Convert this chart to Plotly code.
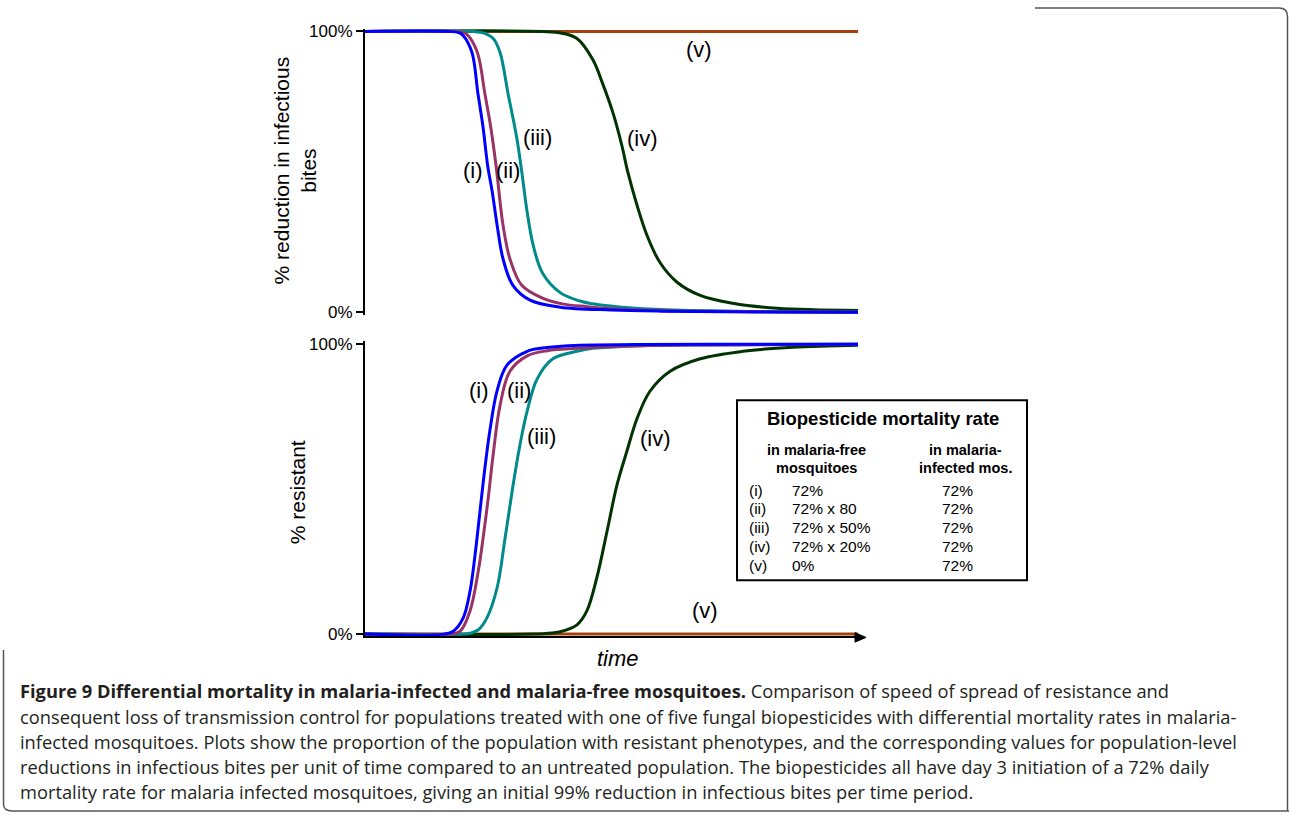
import plotly.graph_objects as go

W, H = 1289, 820

# ---------------- data ----------------
# time axis is unlabelled; arbitrary units 0..100
# Top panel: % reduction in infectious bites
top_t_i = [0, 17, 19, 19.9, 21.7, 22.9, 23.9, 24.9, 25.8, 26.8, 28.0, 30.0, 33.5, 39.6, 50, 60, 80, 100]
top_v_i = [100, 100, 99.6, 98.6, 92.5, 78, 66.5, 52, 43, 31, 19, 9.6, 4.3, 1.8, 0.8, 0.4, 0.1, 0]

top_t_ii = [0, 18, 20, 20.9, 22.8, 24.3, 25.5, 26.6, 28.0, 29.4, 31.8, 36, 40, 45, 50, 60, 80, 100]
top_v_ii = [100, 100, 99.6, 98.6, 92.5, 78, 66, 52, 31, 19, 9.6, 5, 3, 2, 1.3, 0.6, 0.2, 0]

top_t_iii = [0, 22, 24, 26, 27.4, 29, 30.8, 31.8, 32.9, 34.1, 36, 39.6, 43.6, 46.2, 52, 60, 75, 100]
top_v_iii = [100, 100, 99.5, 97.5, 92.5, 78, 62, 50, 35.6, 24, 14, 7, 4.0, 3.0, 1.8, 1, 0.4, 0.1]

top_t_iv = [0, 36, 40, 43, 46.2, 48.3, 50.3, 52.1, 53.3, 55.2, 57.2, 59.8, 63.3, 68, 74.6, 83.6, 100]
top_v_iv = [100, 100, 99.4, 97.5, 90, 81, 71, 59.4, 50, 38, 27.4, 17.8, 10.7, 6, 3.2, 1.4, 0.6]

top_t_v = [0, 100]
top_v_v = [100, 100]

# Bottom panel: % resistant
bot_t_i = [0, 16, 17.9, 19.9, 21.3, 22.3, 23.3, 24.3, 25.4, 26.8, 28.8, 32.9, 36, 43.6, 55, 70, 100]
bot_v_i = [0, 0, 1, 5.5, 14.8, 27, 42, 57, 71, 84, 92.8, 97.6, 98.7, 99.7, 99.9, 100, 100]

bot_t_ii = [0, 17, 19.3, 21.3, 23, 24.3, 25, 26, 27.4, 29.4, 32.9, 37, 43, 55, 70, 100]
bot_v_ii = [0, 0, 1, 8, 22, 37.6, 47, 62, 79, 90.7, 96, 97.8, 98.6, 99.5, 99.8, 100]

bot_t_iii = [0, 20, 21.3, 23, 24.7, 26.8, 28.4, 30, 31.4, 32.9, 34.9, 38.1, 43, 46.2, 60, 80, 100]
bot_v_iii = [0, 0, 0.3, 1.5, 5.5, 16, 33, 51, 65, 77, 88, 95, 97.6, 98.6, 99.7, 99.9, 100]

bot_t_iv = [0, 34, 38, 39.6, 43, 45, 47, 49.1, 51.1, 53.1, 55.2, 57.8, 61.9, 68, 76.7, 86.8, 100]
bot_v_iv = [0, 0, 0.4, 0.8, 3.2, 8, 19.3, 35.5, 51.4, 63, 74.5, 83.8, 90.7, 95, 97.6, 99, 99.7]

bot_t_v = [0, 100]
bot_v_v = [0, 0]

series_names = ["(i)", "(ii)", "(iii)", "(iv)", "(v)"]
colors = {"(i)": "#0000FF", "(ii)": "#993366", "(iii)": "#008B8B", "(iv)": "#003300", "(v)": "#A3410C"}

y_tick_vals = [0, 100]
y_tick_text = ["0%", "100%"]

# legend table contents
legend_title = "Biopesticide mortality rate"
legend_col1_head = ["in malaria-free", "mosquitoes"]
legend_col2_head = ["in malaria-", "infected mos."]
legend_ids = ["(i)", "(ii)", "(iii)", "(iv)", "(v)"]
legend_free = ["72%", "72% x 80", "72% x 50%", "72% x 20%", "0%"]
legend_infected = ["72%", "72%", "72%", "72%", "72%"]

caption_lines = [
    "<b>Figure 9 Differential mortality in malaria-infected and malaria-free mosquitoes.</b> Comparison of speed of spread of resistance and",
    "consequent loss of transmission control for populations treated with one of five fungal biopesticides with differential mortality rates in malaria-",
    "infected mosquitoes. Plots show the proportion of the population with resistant phenotypes, and the corresponding values for population-level",
    "reductions in infectious bites per unit of time compared to an untreated population. The biopesticides all have day 3 initiation of a 72% daily",
    "mortality rate for malaria infected mosquitoes, giving an initial 99% reduction in infectious bites per time period.",
]

# ---------------- helpers ----------------
# the photographed page shows the figure slightly squeezed vertically
# (screen_y ~= 5.5 + 0.9835 * figure_y); target screen pixels are converted back here
Y_OFF, Y_SCALE = 5.5, 0.9835


def px(x):
    return x / W


def py(y):
    fy = (y - Y_OFF) / Y_SCALE
    fy = min(max(fy, 0.0), H - 1.0)
    return 1 - fy / H


FONT = "Liberation Sans, Arial, Helvetica, sans-serif"
CAP_FONT = "Open Sans, sans-serif"

fig = go.Figure()

top_data = {
    "(i)": (top_t_i, top_v_i), "(ii)": (top_t_ii, top_v_ii), "(iii)": (top_t_iii, top_v_iii),
    "(iv)": (top_t_iv, top_v_iv), "(v)": (top_t_v, top_v_v),
}
bot_data = {
    "(i)": (bot_t_i, bot_v_i), "(ii)": (bot_t_ii, bot_v_ii), "(iii)": (bot_t_iii, bot_v_iii),
    "(iv)": (bot_t_iv, bot_v_iv), "(v)": (bot_t_v, bot_v_v),
}

# draw order: (v) first, (i) last (on top)
for name in reversed(series_names):
    t, v = top_data[name]
    fig.add_trace(go.Scatter(x=t, y=v, mode="lines", xaxis="x", yaxis="y",
                             line=dict(color=colors[name], width=3, shape="spline", smoothing=1.0),
                             showlegend=False, hoverinfo="skip"))
for name in reversed(series_names):
    t, v = bot_data[name]
    fig.add_trace(go.Scatter(x=t, y=v, mode="lines", xaxis="x2", yaxis="y2",
                             line=dict(color=colors[name], width=3, shape="spline", smoothing=1.0),
                             showlegend=False, hoverinfo="skip"))

xdom = [px(365), px(858)]
ydom_top = [py(314.2), py(28.2)]
ydom_bot = [py(636.3), py(341.1)]

yaxis_common = dict(range=[-0.8, 101], showline=True, linecolor="black", linewidth=2,
                    ticks="outside", ticklen=7, tickwidth=2, tickcolor="black",
                    tickvals=y_tick_vals, ticktext=y_tick_text, showgrid=False, zeroline=False,
                    tickfont=dict(family=FONT, size=17, color="black"), fixedrange=True)

fig.update_layout(
    width=W, height=H, autosize=False, margin=dict(l=0, r=0, t=0, b=0, pad=0),
    paper_bgcolor="white", plot_bgcolor="white",
    xaxis=dict(domain=xdom, range=[0, 100], visible=False, anchor="y"),
    xaxis2=dict(domain=xdom, range=[0, 100], anchor="y2", showline=True, linecolor="black", linewidth=2,
                showticklabels=False, ticks="", showgrid=False, zeroline=False, fixedrange=True),
    yaxis=dict(domain=ydom_top, anchor="x", **yaxis_common),
    yaxis2=dict(domain=ydom_bot, anchor="x2", **yaxis_common),
)

ann = []

def add_text(x, y, text, size, xanchor="center", yanchor="middle", family=FONT, color="black", angle=0):
    ann.append(dict(x=x, y=y, xref="paper", yref="paper", text=text, showarrow=False,
                    xanchor=xanchor, yanchor=yanchor, textangle=angle,
                    font=dict(family=family, size=size, color=color)))

# curve labels
top_label_pos = {"(i)": (21.9, 50.5), "(ii)": (29.0, 50.5), "(iii)": (34.9, 62.3), "(iv)": (56.2, 62), "(v)": (67.7, 93.6)}
bot_label_pos = {"(i)": (23.1, 84), "(ii)": (31.2, 84), "(iii)": (35.9, 68.3), "(iv)": (59.0, 67.6), "(v)": (69.0, 8.3)}
for name in series_names:
    x, y = top_label_pos[name]
    ann.append(dict(x=x, y=y, xref="x", yref="y", text=name, showarrow=False, xanchor="center", yanchor="middle",
                    font=dict(family=FONT, size=22, color="black")))
    x, y = bot_label_pos[name]
    ann.append(dict(x=x, y=y, xref="x2", yref="y2", text=name, showarrow=False, xanchor="center", yanchor="middle",
                    font=dict(family=FONT, size=22, color="black")))

# axis titles
add_text(px(295), py(170), "% reduction in infectious<br>bites", 21, angle=-90)
add_text(px(297), py(492), "% resistant", 21, angle=-90)
add_text(px(618), py(658), "<i>time</i>", 22)

# legend table
add_text(px(883), py(418), "<b>" + legend_title + "</b>", 18.5)
head_y = [450, 468]
for i in range(2):
    add_text(px(816), py(head_y[i]), "<b>" + legend_col1_head[i] + "</b>", 14.5)
    add_text(px(965), py(head_y[i]), "<b>" + legend_col2_head[i] + "</b>", 14.5)
row_y = [490, 508.5, 527, 546, 565]
for i in range(5):
    for xpos, txt in ((747, legend_ids[i]), (790, legend_free[i]), (940, legend_infected[i])):
        add_text(px(xpos), py(row_y[i]), txt, 15.5, xanchor="left")

# caption
cap_y = [690, 716, 741, 766, 791]
for i, line in enumerate(caption_lines):
    add_text(px(18), py(cap_y[i]), line, 18.3, xanchor="left", family=CAP_FONT, color="#231f20")

fig.update_layout(annotations=ann)

shapes = []
shapes.append(dict(type="rect", xref="paper", yref="paper", x0=px(737), x1=px(1027), y0=py(580), y1=py(400),
                   line=dict(color="black", width=2), fillcolor="rgba(0,0,0,0)"))
# arrowhead at the end of the time axis
shapes.append(dict(type="path", xref="paper", yref="paper",
                   path=f"M {px(855)} {py(632.5)} L {px(866)} {py(637.3)} L {px(855)} {py(642)} Z",
                   fillcolor="black", line=dict(color="black", width=1)))
# outer frame (rounded top-right and bottom-left corners)
frame_top = (f"M {px(1035)} {py(7.5)} L {px(1279)} {py(7.5)} Q {px(1287.5)} {py(7.5)} {px(1287.5)} {py(16)} "
             f"L {px(1287.5)} {py(822)}")
frame_bot = (f"M {px(3.5)} {py(650)} L {px(3.5)} {py(804)} Q {px(3.5)} {py(812)} {px(12)} {py(812)} "
             f"L {px(1290)} {py(812)}")
for p in (frame_top, frame_bot):
    shapes.append(dict(type="path", xref="paper", yref="paper", path=p, line=dict(color="#555555", width=1.5)))
fig.update_layout(shapes=shapes)

post = (
    "document.documentElement.style.margin='0';document.documentElement.style.padding='0';"
    "document.documentElement.style.overflow='hidden';"
    "document.body.style.margin='0';document.body.style.padding='0';document.body.style.overflow='hidden';"
    "var gd=document.getElementById('{plot_id}');gd.style.position='absolute';gd.style.left='0px';gd.style.top='0px';"
)
fig.write_html("out.html", config={"responsive": False, "displayModeBar": False}, post_script=post)
